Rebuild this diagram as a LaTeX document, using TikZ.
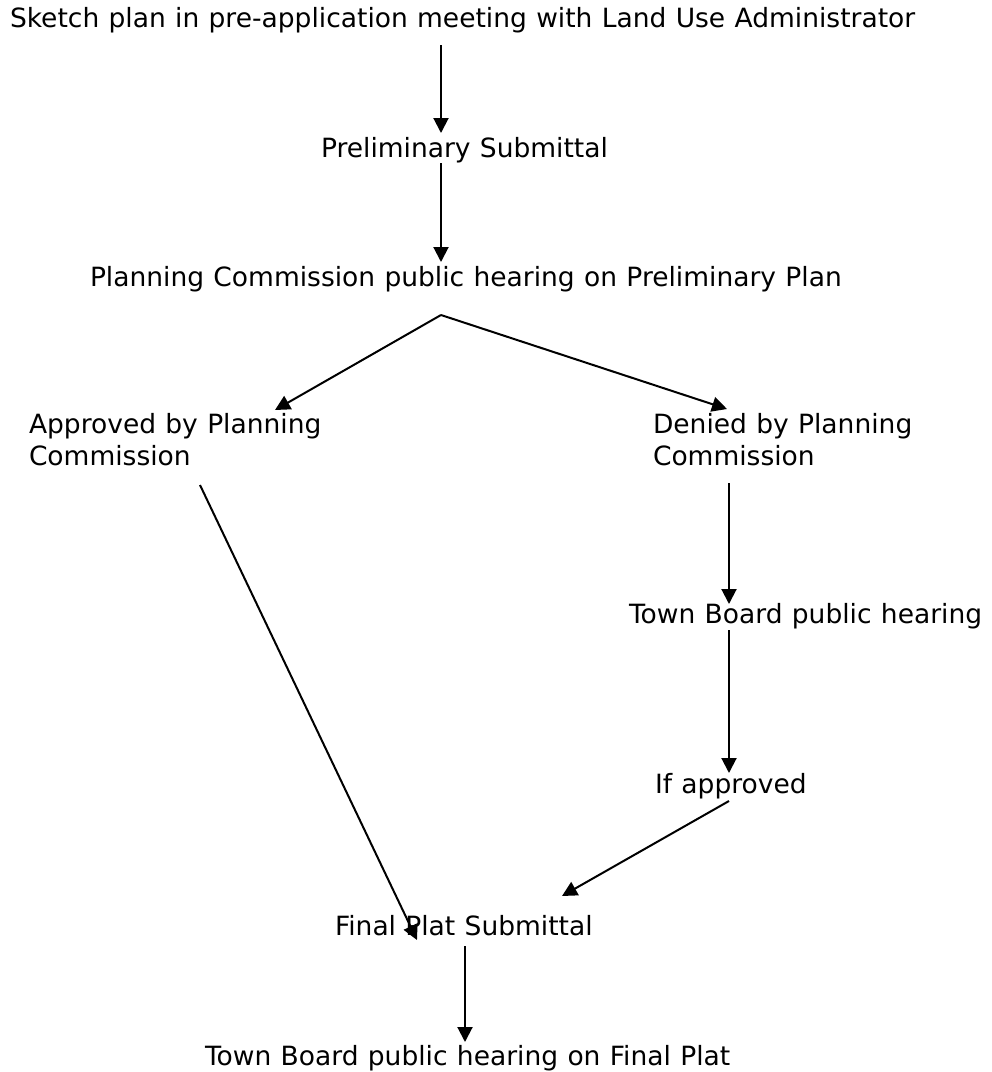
\documentclass[tikz,border=0pt]{standalone}
\usepackage{fontspec}
\setmainfont[WordSpace=1.106]{DejaVu Sans}
\usetikzlibrary{arrows.meta}
\tikzset{
  lbl/.style={anchor=base west, inner sep=0pt, outer sep=0pt, font=\fontsize{26.5}{32}\selectfont, align=left},
  flow/.style={line width=2pt, -{Triangle[length=15pt,width=15pt]}}
}
\begin{document}
\begin{tikzpicture}[x=1pt,y=-1pt]
\useasboundingbox (0,0) rectangle (992,1072);
\node[lbl] (sketch) at (10,27) {Sketch plan in pre-application meeting with Land Use Administrator};
\node[lbl] (prelim) at (321,157) {Preliminary Submittal};
\node[lbl] (pc) at (90,286) {Planning Commission public hearing on Preliminary Plan};
% base of a two-line node is the baseline of its last line
\node[lbl] (appr) at (29,465) {Approved by Planning\\Commission};
\node[lbl] (denied) at (653,465) {Denied by Planning\\Commission};
\node[lbl] (tb) at (629,623) {Town Board public hearing};
\node[lbl] (ifap) at (655,793) {If approved};
\node[lbl] (final) at (335,935) {Final Plat Submittal};
\node[lbl] (tbf) at (205,1065) {Town Board public hearing on Final Plat};

\coordinate (s1) at (441,45);  \coordinate (e1) at (441,133);
\coordinate (s2) at (441,163); \coordinate (e2) at (441,262);
\coordinate (s3) at (441,315); \coordinate (e3a) at (275,410); \coordinate (e3b) at (727,409);
\coordinate (s4) at (200,485); \coordinate (e4) at (417,940);
\coordinate (s5) at (729,483); \coordinate (e5) at (729,604);
\coordinate (s6) at (729,630); \coordinate (e6) at (729,773);
\coordinate (s7) at (729,801); \coordinate (e7) at (562,896);
\coordinate (s8) at (465,946); \coordinate (e8) at (465,1042);

\draw[flow] (s1) -- (e1);
\draw[flow] (s2) -- (e2);
\draw[flow] (s3) -- (e3a);
\draw[flow] (s3) -- (e3b);
\draw[flow] (s4) -- (e4);
\draw[flow] (s5) -- (e5);
\draw[flow] (s6) -- (e6);
\draw[flow] (s7) -- (e7);
\draw[flow] (s8) -- (e8);
\end{tikzpicture}
\end{document}
